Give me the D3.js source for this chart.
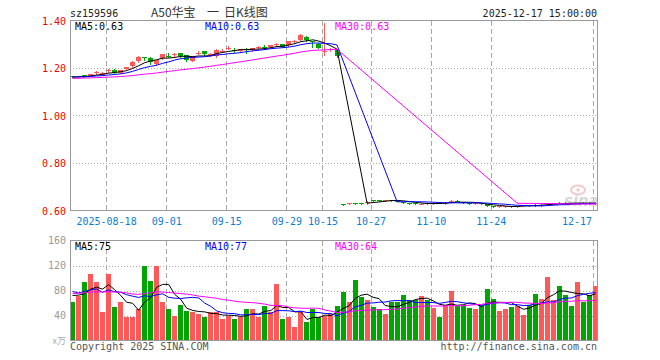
<!DOCTYPE html>
<html><head><meta charset="utf-8">
<script src="https://cdn.jsdelivr.net/npm/d3@7/dist/d3.min.js"></script>
<style>body{margin:0;background:#fff}svg{display:block}</style>
</head><body><svg id="c" width="660" height="360"></svg>
<script>
// ---------- data ----------
const dates = ["08-08","08-11","08-12","08-13","08-14","08-15","08-18","08-19","08-20","08-21","08-22","08-25","08-26","08-27","08-28","08-29",
"09-01","09-02","09-03","09-04","09-05","09-08","09-09","09-10","09-11","09-12","09-15","09-16","09-17","09-18","09-19","09-22","09-23","09-24","09-25","09-26","09-29","09-30",
"10-09","10-10","10-13","10-14","10-15","10-16","10-17","10-20","10-21","10-22","10-23","10-24","10-27","10-28","10-29","10-30","10-31",
"11-03","11-04","11-05","11-06","11-07","11-10","11-11","11-12","11-13","11-14","11-17","11-18","11-19","11-20","11-21","11-24","11-25","11-26","11-27","11-28",
"12-01","12-02","12-03","12-04","12-05","12-08","12-09","12-10","12-11","12-12","12-15","12-16","12-17"];
const open  = [1.165,1.163,1.169,1.166,1.180,1.172,1.188,1.193,1.180,1.196,1.207,1.229,1.246,1.243,1.215,1.240,1.252,1.255,1.262,1.254,1.230,1.262,1.271,1.255,1.250,1.270,1.282,1.276,1.270,1.280,1.275,1.285,1.288,1.289,1.298,1.300,1.296,1.313,1.319,1.331,1.312,1.303,1.270,1.275,1.277,
0.627,0.628,0.632,0.630,0.630,0.643,0.643,0.640,0.645,0.642,0.636,0.631,0.630,0.627,0.630,0.629,0.632,0.630,0.636,0.642,0.634,0.631,0.628,0.630,0.626,0.617,0.615,0.616,0.618,0.616,0.619,0.624,0.624,0.622,0.626,0.630,0.633,0.632,0.631,0.629,0.633,0.632,0.630];
const high  = [1.167,1.168,1.171,1.175,1.186,1.182,1.196,1.195,1.192,1.206,1.228,1.249,1.246,1.245,1.234,1.259,1.262,1.262,1.264,1.256,1.250,1.270,1.273,1.262,1.279,1.278,1.292,1.284,1.280,1.284,1.285,1.292,1.296,1.298,1.304,1.302,1.315,1.318,1.345,1.333,1.315,1.305,1.390,1.285,1.279,
0.629,0.632,0.633,0.632,0.639,0.645,0.645,0.646,0.646,0.644,0.637,0.633,0.631,0.631,0.632,0.633,0.634,0.635,0.643,0.643,0.636,0.633,0.632,0.632,0.628,0.619,0.617,0.619,0.620,0.619,0.621,0.625,0.626,0.626,0.627,0.632,0.634,0.634,0.633,0.632,0.635,0.634,0.632,0.635];
const low   = [1.161,1.161,1.164,1.165,1.174,1.170,1.185,1.178,1.178,1.194,1.205,1.227,1.232,1.215,1.213,1.238,1.246,1.252,1.247,1.228,1.228,1.258,1.255,1.250,1.245,1.266,1.278,1.268,1.268,1.262,1.272,1.280,1.278,1.287,1.294,1.288,1.294,1.310,1.317,1.315,1.288,1.283,1.256,1.272,1.245,
0.624,0.627,0.628,0.628,0.629,0.640,0.640,0.639,0.642,0.640,0.632,0.628,0.626,0.626,0.628,0.628,0.630,0.629,0.635,0.638,0.630,0.628,0.627,0.626,0.617,0.614,0.613,0.614,0.615,0.615,0.618,0.621,0.621,0.621,0.625,0.629,0.630,0.629,0.629,0.628,0.630,0.629,0.629];
const close = [1.163,1.166,1.167,1.173,1.182,1.180,1.190,1.180,1.190,1.204,1.226,1.247,1.244,1.226,1.232,1.257,1.250,1.257,1.249,1.235,1.248,1.264,1.257,1.258,1.277,1.272,1.286,1.274,1.278,1.275,1.283,1.288,1.285,1.296,1.300,1.290,1.313,1.315,1.338,1.317,1.310,1.285,1.272,1.280,1.251,
0.626,0.630,0.630,0.629,0.637,0.642,0.642,0.644,0.643,0.641,0.633,0.629,0.627,0.629,0.629,0.631,0.631,0.633,0.641,0.639,0.631,0.629,0.630,0.627,0.618,0.615,0.617,0.618,0.616,0.619,0.623,0.622,0.622,0.625,0.630,0.632,0.631,0.630,0.630,0.633,0.631,0.630,0.633];
const volume = [62,71,94,107,93,46,107,54,62,37,38,51,120,96,120,62,51,40,57,48,45,42,37,45,46,34,40,35,38,51,50,38,56,45,91,34,37,22,46,29,50,38,40,43,56,
78,61,97,70,65,53,50,42,62,62,73,65,65,71,65,52,37,57,80,56,56,52,51,56,83,67,48,51,54,56,41,57,75,67,102,65,88,73,56,94,62,73,88];
// sessions before the first visible day (only feed the moving averages)
const prevClose = [1.140,1.145,1.150,1.148,1.152,1.155,1.150,1.146,1.150,1.155,1.158,1.156,1.160,1.152,1.150,1.155,1.158,1.160,1.157,1.162,1.165,1.160,1.158,1.163,1.166,1.162,1.160,1.164,1.161];
const prevVolume = [70,65,80,72,60,85,78,66,74,90,68,72,62,75,80,70,66,84,72,88,95,70,82,78,100,68,84,70,76];
const splitDate = "10-20";
const tickDates  = ["08-18","09-01","09-15","09-29","10-15","10-27","11-10","11-24","12-17"];
const tickLabels = ["2025-08-18","09-01","09-15","09-29","10-15","10-27","11-10","11-24","12-17"];
const priceTicks = [0.60,0.80,1.00,1.20,1.40];
const volTicks = [40,80,120,160];
const maPeriods = [5,10,30];

// ---------- drawing ----------
const svg = d3.select("#c");
const FONT = "'DejaVu Sans Mono', monospace";
const RED = "#ff5858", GREEN = "#00a600";
const maColors = ["#000000","#0000ff","#ff00ff"];
const L = 70, R = 597;
const P = {top:20.5, bottom:210.5};
const V = {top:240.5, bottom:340.5};

const x = d3.scaleBand().domain(dates).range([L, L + 6*dates.length]).paddingInner(1/6).paddingOuter(0).align(0);
const step = x.step();
const cx = d => x(d) + x.bandwidth()/2;
const yP = d3.scaleLinear().domain([0.6,1.4]).range([P.bottom, P.top]);
const yV = d3.scaleLinear().domain([0,160]).range([V.bottom, V.top]);
const splitIndex = dates.indexOf(splitDate);

function movingAvg(prev, vals, n, split) {
  const all = prev.concat(vals), off = prev.length;
  return vals.map((_, i) => {
    if (split >= 0 && i >= split && i - n + 1 < split) return null;
    const s = off + i - n + 1;
    if (s < 0) return null;
    return d3.mean(all.slice(s, off + i + 1));
  });
}

// header
svg.append("text").attr("x",L).attr("y",16.5).attr("font-family",FONT).attr("font-size",10).attr("fill","#222").text("sz159596");
const tg = svg.append("g").attr("font-family","'Noto Sans CJK SC','DejaVu Sans Mono',sans-serif").attr("font-size",12).attr("fill","#333");
tg.append("text").attr("x",151).attr("y",17).text("A50华宝");
tg.append("text").attr("x",207).attr("y",17).text("一");
tg.append("text").attr("x",224).attr("y",17).text("日K线图");
svg.append("text").attr("x",R).attr("y",16.5).attr("text-anchor","end").attr("font-family",FONT).attr("font-size",10).attr("fill","#222").text("2025-12-17 15:00:00");

function panelGrid(top, bottom, hTicks, yScale) {
  const g = svg.append("g").attr("shape-rendering","crispEdges");
  g.selectAll("line.v").data(tickDates).join("line")
    .attr("x1", d => x(d)+0.5).attr("x2", d => x(d)+0.5)
    .attr("y1", top).attr("y2", bottom)
    .attr("stroke","#aaa").attr("stroke-dasharray","5,3");
  g.selectAll("line.h").data(hTicks).join("line")
    .attr("x1", L).attr("x2", R)
    .attr("y1", d => Math.round(yScale(d))+0.5).attr("y2", d => Math.round(yScale(d))+0.5)
    .attr("stroke","#aaa").attr("stroke-dasharray","1,2");
}
panelGrid(P.top, P.bottom, [0.8,1.0,1.2], yP);
panelGrid(V.top, V.bottom, [40,80,120], yV);

// sina watermark
const wm = svg.append("g").attr("opacity",0.9);
wm.append("ellipse").attr("cx",578).attr("cy",190).attr("rx",7).attr("ry",4.5).attr("fill","none").attr("stroke","#f2c4c4").attr("stroke-width",2);
wm.append("circle").attr("cx",578).attr("cy",190).attr("r",1.8).attr("fill","#f2c4c4");
wm.append("text").attr("x",564).attr("y",206).attr("font-family","'DejaVu Sans',sans-serif").attr("font-size",15).attr("font-weight","bold").attr("font-style","italic").attr("fill","#d4d4d4").text("sina");

// candles
const cg = svg.append("g").attr("shape-rendering","crispEdges");
dates.forEach((d, i) => {
  const up = close[i] > open[i] || (close[i] === open[i] && i > 0 && close[i] >= close[i-1]);
  const col = up ? RED : GREEN;
  const xc = Math.floor(cx(d)) + 0.5;
  cg.append("line").attr("x1",xc).attr("x2",xc).attr("y1",Math.round(yP(high[i]))).attr("y2",Math.round(yP(low[i]))+1).attr("stroke",col);
  const y1 = Math.round(yP(Math.max(open[i],close[i]))), y2 = Math.round(yP(Math.min(open[i],close[i])));
  cg.append("rect").attr("x",x(d)).attr("y",y1).attr("width",x.bandwidth()).attr("height",Math.max(1,y2-y1)).attr("fill",col);
});

// volume bars
svg.append("g").attr("shape-rendering","crispEdges").selectAll("rect").data(dates).join("rect")
  .attr("x", d => x(d)).attr("width", x.bandwidth())
  .attr("y", (d,i) => Math.round(yV(volume[i]))).attr("height", (d,i) => V.bottom - Math.round(yV(volume[i])))
  .attr("fill", (d,i) => (close[i] > open[i] || (close[i] === open[i] && i>0 && close[i] >= close[i-1])) ? RED : GREEN);

// moving averages
const line = d3.line().x(p => p[0]).y(p => p[1]);
const priceMA = maPeriods.map(n => movingAvg(prevClose, close, n, splitIndex));
const volMA = maPeriods.map(n => movingAvg(prevVolume, volume, n, -1));
function drawMA(series, yScale) {
  series.forEach((s, k) => {
    const pts = [];
    s.forEach((v, i) => { if (v != null) pts.push([cx(dates[i]), yScale(v)]); });
    svg.append("path").attr("d", line(pts)).attr("fill","none").attr("stroke",maColors[k]).attr("stroke-width",1);
  });
}
drawMA(priceMA, yP);
drawMA(volMA, yV);

// panel borders
svg.append("rect").attr("x",L+0.5).attr("y",P.top-0.5).attr("width",R-L).attr("height",P.bottom-P.top).attr("fill","none").attr("stroke","#999").attr("shape-rendering","crispEdges");
svg.append("rect").attr("x",L+0.5).attr("y",V.top-0.5).attr("width",R-L).attr("height",V.bottom-V.top).attr("fill","none").attr("stroke","#999").attr("shape-rendering","crispEdges");

// legends
const legX = [75, 205, 335];
const fmtP = v => v.toFixed(2), fmtV = v => String(Math.round(v));
maPeriods.forEach((n, k) => {
  const pv = priceMA[k][priceMA[k].length-1], vv = volMA[k][volMA[k].length-1];
  svg.append("text").attr("x",legX[k]).attr("y",29.5).attr("font-family",FONT).attr("font-size",10).attr("fill",maColors[k]).text(`MA${n}:${fmtP(pv)}`);
  svg.append("text").attr("x",legX[k]).attr("y",249.5).attr("font-family",FONT).attr("font-size",10).attr("fill",maColors[k]).text(`MA${n}:${fmtV(vv)}`);
});

// y labels
svg.append("g").selectAll("text").data(priceTicks).join("text")
  .attr("x",66).attr("y", d => yP(d)+4).attr("text-anchor","end").attr("font-family",FONT).attr("font-size",10).attr("fill","#ee0000").text(d => d.toFixed(2));
svg.append("g").selectAll("text").data(volTicks).join("text")
  .attr("x",66).attr("y", d => yV(d)+3.5).attr("text-anchor","end").attr("font-family",FONT).attr("font-size",10).attr("fill","#999").text(d => d);
svg.append("text").attr("x",66).attr("y",344).attr("text-anchor","end").attr("font-family","'Noto Sans CJK SC',sans-serif").attr("font-size",9).attr("fill","#aaa").text("x万");

// x labels
const xg = svg.append("g").attr("font-family",FONT).attr("font-size",10).attr("fill","#0a80d4");
tickDates.forEach((d, k) => {
  const t = xg.append("text").attr("y",225).text(tickLabels[k]);
  const w = t.node().getComputedTextLength();
  let left = x(d) + 0.5 - w/2;
  if (left + w > R - 5) left = R - 5 - w;
  t.attr("x", left);
});

// footer
svg.append("text").attr("x",L).attr("y",349.5).attr("font-family",FONT).attr("font-size",10).attr("fill","#555").text("Copyright 2025 SINA.COM");
svg.append("text").attr("x",R).attr("y",349.5).attr("text-anchor","end").attr("font-family",FONT).attr("font-size",10).attr("fill","#555").text("http://finance.sina.com.cn");
</script></body></html>
